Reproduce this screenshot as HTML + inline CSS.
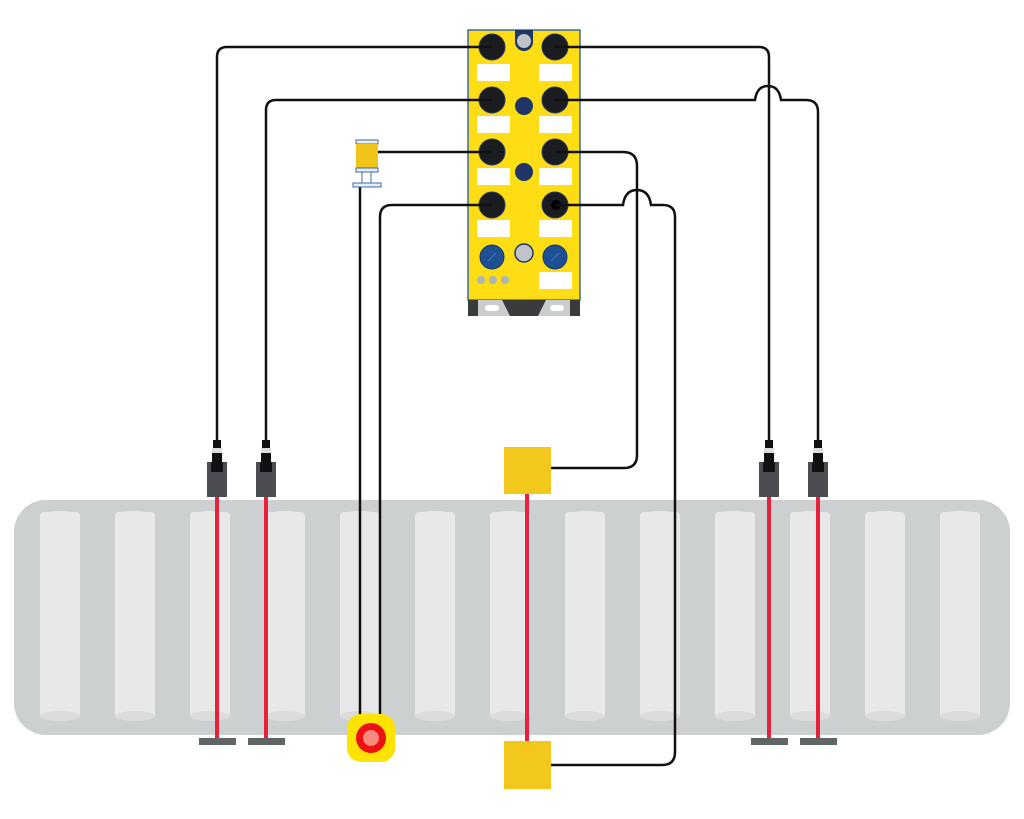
<!DOCTYPE html>
<html><head><meta charset="utf-8"><style>html,body{margin:0;padding:0;background:#fff}svg{display:block}</style></head>
<body>
<svg width="1024" height="819" viewBox="0 0 1024 819" xmlns="http://www.w3.org/2000/svg">
<!-- conveyor -->
<rect x="14" y="500" width="996" height="235" rx="32" fill="#cdd0d1"/>
<g fill="#e8e8e8">
<g id="r">
<rect x="40" y="512" width="40" height="206" rx="4"/>
<ellipse cx="60" cy="516" rx="20" ry="5"/>
<ellipse cx="60" cy="716" rx="20" ry="5" fill="#dcdcdc"/>
</g>
<use href="#r" x="75"/><use href="#r" x="150"/><use href="#r" x="225"/><use href="#r" x="300"/><use href="#r" x="375"/><use href="#r" x="450"/><use href="#r" x="525"/><use href="#r" x="600"/><use href="#r" x="675"/><use href="#r" x="750"/><use href="#r" x="825"/><use href="#r" x="900"/>
</g>
<!-- module -->
<rect x="468" y="30" width="112" height="270" fill="#ffdd15" stroke="#3c6aa5" stroke-width="1.5"/>
<rect x="468" y="300" width="112" height="16" fill="#3a3b3d"/>
<path d="M478 300 H502 L510 316 H478 Z M570 300 H546 L538 316 H570 Z" fill="#c9cdd0"/>
<rect x="485" y="305" width="14" height="6" rx="3" fill="#fff"/>
<rect x="550" y="305" width="14" height="6" rx="3" fill="#fff"/>
<path d="M515 30 H533 V42 A9 9 0 0 1 515 42 Z" fill="#1f3566"/>
<circle cx="524" cy="41" r="7" fill="#c0c4c8"/>
<g fill="#1b1c20" stroke="#2a3b66" stroke-width="1">
<circle cx="492" cy="47" r="13"/><circle cx="555" cy="47" r="13"/>
<circle cx="492" cy="100" r="13"/><circle cx="555" cy="100" r="13"/>
<circle cx="492" cy="152" r="13"/><circle cx="555" cy="152" r="13"/>
<circle cx="492" cy="205" r="13"/><circle cx="555" cy="205" r="13"/>
</g>
<circle cx="556" cy="205" r="5" fill="#000"/>
<g fill="#fff">
<rect x="477" y="64" width="33" height="17"/><rect x="539" y="64" width="33" height="17"/>
<rect x="477" y="116" width="33" height="17"/><rect x="539" y="116" width="33" height="17"/>
<rect x="477" y="168" width="33" height="17"/><rect x="539" y="168" width="33" height="17"/>
<rect x="477" y="220" width="33" height="17"/><rect x="539" y="220" width="33" height="17"/>
<rect x="539" y="272" width="33" height="17"/>
</g>
<circle cx="524" cy="106" r="9" fill="#1f3566"/>
<circle cx="524" cy="172" r="9" fill="#1f3566"/>
<circle cx="492" cy="257" r="12" fill="#1e4f92" stroke="#163a70"/>
<circle cx="555" cy="257" r="12" fill="#1e4f92" stroke="#163a70"/>
<path d="M488 261 L496 253 M551 261 L559 253" stroke="#3a6bb0" stroke-width="1.5"/>
<circle cx="524" cy="253" r="9" fill="#c0c4c8" stroke="#1f3566" stroke-width="1.5"/>
<g fill="#a9b7b8"><circle cx="481" cy="280" r="4"/><circle cx="493" cy="280" r="4"/><circle cx="505" cy="280" r="4"/></g>
<!-- wires -->
<g fill="none" stroke="#111" stroke-width="2.5">
<path d="M492 47 H227 Q217 47 217 57 V442"/>
<path d="M492 100 H276 Q266 100 266 110 V442"/>
<path d="M555 47 H759 Q769 47 769 57 V442"/>
<path d="M555 100 H755 Q757 86 768 86 Q779 86 781 100 H806 Q818 100 818 112 V442"/>
<path d="M378 152 H492"/>
<path d="M360 187 V718"/>
<path d="M492 205 H392 Q380 205 380 217 V718"/>
<path d="M555 152 H623 Q637 152 637 166 V455 Q637 468 624 468 H551"/>
<path d="M555 205 H623 Q625 190 637 190 Q649 190 651 205 H663 Q675 205 675 217 V752 Q675 765 662 765 H551"/>
</g>
<!-- stack light -->
<rect x="356" y="140" width="22" height="4" fill="#e8eef5" stroke="#3c6aa5"/>
<rect x="356" y="144" width="22" height="24" fill="#f0c419"/>
<rect x="356" y="168" width="22" height="4" fill="#e8eef5" stroke="#3c6aa5"/>
<rect x="362" y="172" width="9" height="11" fill="#fff" stroke="#3c6aa5"/>
<rect x="353" y="183" width="28" height="4" fill="#e8eef5" stroke="#3c6aa5"/>
<!-- sensors -->
<g id="s">
<rect x="213" y="440" width="8" height="8" fill="#111"/>
<rect x="212" y="448" width="10" height="5" fill="#ddd"/>
<rect x="212" y="453" width="10" height="9" fill="#111"/>
<rect x="207" y="462" width="20" height="35" fill="#4b4d52"/>
<rect x="211" y="462" width="12" height="10" fill="#111"/>
<rect x="215" y="497" width="4" height="243" fill="#e8203a"/>
<rect x="199" y="738" width="37" height="7" fill="#5f6565"/>
</g>
<use href="#s" x="49"/><use href="#s" x="552"/><use href="#s" x="601"/>
<!-- boxes -->
<rect x="525" y="494" width="4" height="247" fill="#e8203a"/>
<rect x="504" y="447" width="47" height="47" fill="#f2c81c"/>
<rect x="504" y="741" width="47" height="48" fill="#f2c81c"/>
<!-- e-stop -->
<rect x="347" y="714" width="48" height="48" rx="14" fill="#ffe300"/>
<circle cx="371" cy="738" r="15" fill="#ee1111"/>
<circle cx="371" cy="738" r="8" fill="#f98a80"/>
</svg>
</body></html>
